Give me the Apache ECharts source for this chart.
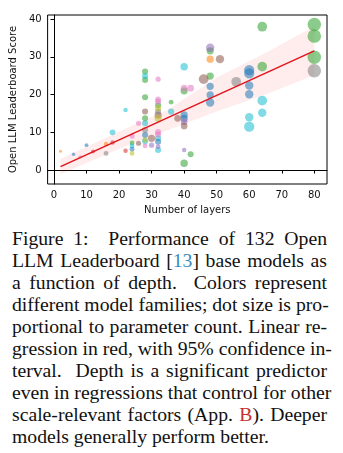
<!DOCTYPE html>
<html>
<head>
<meta charset="utf-8">
<script src="https://cdn.jsdelivr.net/npm/echarts@6/dist/echarts.min.js"></script>
<style>
  html, body { margin: 0; padding: 0; background: #fff; }
  #wrap { position: relative; width: 343px; height: 453px; overflow: hidden; }
  #chart { position: absolute; left: 0; top: 0; width: 343px; height: 225px; }
  #caption { position: absolute; left: 12px; top: 227px; width: 315px;
    font-family: "Liberation Serif", "Times New Roman", serif; font-size: 19.7px; line-height: 22px; color: #111; }
  #caption .l { text-align: justify; text-align-last: justify; white-space: nowrap; }
  #caption .last { text-align: left; white-space: nowrap; }
  .ref { color: #3b88bf; }
  .app { color: #c62f2f; }
</style>
</head>
<body>
<div id="wrap">
  <div id="chart"></div>
  <div id="caption">
    <div class="l">Figure 1:&nbsp; Performance of 132 Open</div>
    <div class="l">LLM Leaderboard [<span class="ref">13</span>] base models as</div>
    <div class="l">a function of depth.&nbsp; Colors represent</div>
    <div class="l">different model families; dot size is pro-</div>
    <div class="l">portional to parameter count. Linear re-</div>
    <div class="l">gression in red, with 95% confidence in-</div>
    <div class="l">terval.&nbsp; Depth is a significant predictor</div>
    <div class="l">even in regressions that control for other</div>
    <div class="l">scale-relevant factors (App. <span class="app">B</span>). Deeper</div>
    <div class="last">models generally perform better.</div>
  </div>
</div>
<script>
// ---- data: [layers, score, params (B)] per model family ----
const familyGreen = [[28,26.1,7],[28,23.9,7],[28,19.3,7],[28,13.7,7],[36,18.0,3],[40,21.0,13],[40,1.8,14],[42,4.2,7],[48,24.9,13],[48,31.6,13],[64,38.0,30],[64,27.4,30],[80,38.6,70],[80,35.5,70],[80,29.9,70],[32,17.2,7],[24,7.2,3]];
const familyCyan = [[28,24.9,7],[22,15.9,2],[40,27.4,14],[18,10.0,6],[28,12.4,7],[36,15.5,8],[32,8.4,7],[32,5.3,7],[64,18.4,30],[64,15.2,20],[60,14.0,20],[60,11.5,35],[24,6.4,3],[28,7.6,7]];
const familyPink = [[32,24.1,4],[32,18.7,6],[40,21.7,10],[42,21.7,10],[26,12.4,4],[24,9.0,4],[32,10.1,7],[32,9.4,7],[32,18.1,7],[28,6.4,3],[8,3.5,0.3]];
const familyBlue = [[48,22.2,13],[48,19.9,13],[48,17.9,20],[60,26.5,35],[60,25.6,35],[60,22.4,20],[60,20.1,20],[40,14.6,13],[40,13.7,13],[10,6.6,1],[6,4.2,0.5],[28,9.3,7],[32,7.5,7],[24,5.5,3]];
const familyPurple = [[48,32.4,20],[40,12.8,10],[40,5.3,2],[30,6.6,4],[32,6.2,3]];
const familyBrown = [[51,29.4,20],[46,24.1,30],[28,15.5,7],[38,13.7,10],[40,11.7,10],[30,8.4,13],[26,7.1,4],[32,14.6,12]];
const familyOrange = [[48,29.4,13],[2,5.0,0.1],[16,6.9,2]];
const familyRed = [[22,5.1,2],[12,4.9,1],[18,7.3,2]];
const familyGray = [[80,26.3,70],[56,23.4,30],[16,4.4,3],[28,10.6,7],[32,15.5,7]];
const familyOlive = [[32,16.4,7],[32,13.7,12],[24,4.4,3],[28,8.0,4]];

// regression line and 95% CI band
const regX = [2, 80];
const regY = [0.9, 31.6];
const ciX = [2, 20, 35, 50, 65, 80];
const ciLow = [-1.1, 5.6, 10.6, 15.5, 20.0, 25.1];
const ciHigh = [2.9, 10.2, 16.0, 24.5, 31.0, 38.1];

// tick labels
const xTicks = [0, 10, 20, 30, 40, 50, 60, 70, 80];
const yTicks = [0, 10, 20, 30, 40];

const families = [
  ['green', familyGreen, '#2ca02c'],
  ['cyan', familyCyan, '#17becf'],
  ['pink', familyPink, '#e377c2'],
  ['blue', familyBlue, '#1f77b4'],
  ['purple', familyPurple, '#9467bd'],
  ['brown', familyBrown, '#8c564b'],
  ['orange', familyOrange, '#ff7f0e'],
  ['red', familyRed, '#d62728'],
  ['gray', familyGray, '#7f7f7f'],
  ['olive', familyOlive, '#bcbd22']
];

const chart = echarts.init(document.getElementById('chart'), null, { renderer: 'canvas' });
const tickFont = { fontFamily: 'DejaVu Sans', fontSize: 10, color: '#111' };

const series = [];
// CI band
series.push({
  type: 'custom',
  z: 1,
  silent: true,
  data: [0],
  renderItem: function (params, api) {
    const pts = [];
    for (let i = 0; i < ciX.length; i++) pts.push(api.coord([ciX[i], ciHigh[i]]));
    for (let i = ciX.length - 1; i >= 0; i--) pts.push(api.coord([ciX[i], ciLow[i]]));
    return { type: 'polygon', shape: { points: pts }, style: { fill: 'rgba(255,60,60,0.09)' } };
  }
});
families.forEach(function (f) {
  series.push({
    type: 'scatter',
    name: f[0],
    z: 3,
    data: f[1],
    symbolSize: function (d) { return 2.6 + 1.3 * Math.sqrt(d[2]); },
    itemStyle: { color: f[2], opacity: 0.55 },
    emphasis: { disabled: true }
  });
});
series.push({
  type: 'line',
  z: 5,
  data: regX.map(function (x, i) { return [x, regY[i]]; }),
  symbol: 'none',
  lineStyle: { color: '#e3141b', width: 1.5 },
  silent: true
});

chart.setOption({
  animation: false,
  grid: { left: 44, top: 15, width: 283, height: 169, show: true, borderColor: '#000', borderWidth: 1, backgroundColor: 'transparent' },
  xAxis: {
    type: 'value', min: -1.95, max: 83.9,
    name: 'Number of layers', nameLocation: 'middle', nameGap: 21,
    nameTextStyle: tickFont,
    axisLine: { lineStyle: { color: '#000', width: 1 } },
    axisTick: { show: true, length: 3.5, customValues: xTicks, lineStyle: { color: '#000' } },
    axisLabel: Object.assign({ customValues: xTicks, margin: 6 }, tickFont),
    splitLine: { show: false }
  },
  yAxis: {
    type: 'value', min: -3.7, max: 41.1,
    name: 'Open LLM Leaderboard Score', nameLocation: 'middle', nameGap: 26,
    nameTextStyle: tickFont,
    axisLine: { show: true, lineStyle: { color: '#000', width: 1 } },
    axisTick: { show: true, length: 3.5, customValues: yTicks, lineStyle: { color: '#000' } },
    axisLabel: Object.assign({ customValues: yTicks, margin: 6 }, tickFont),
    splitLine: { show: false }
  },
  series: series
});
</script>
</body>
</html>
